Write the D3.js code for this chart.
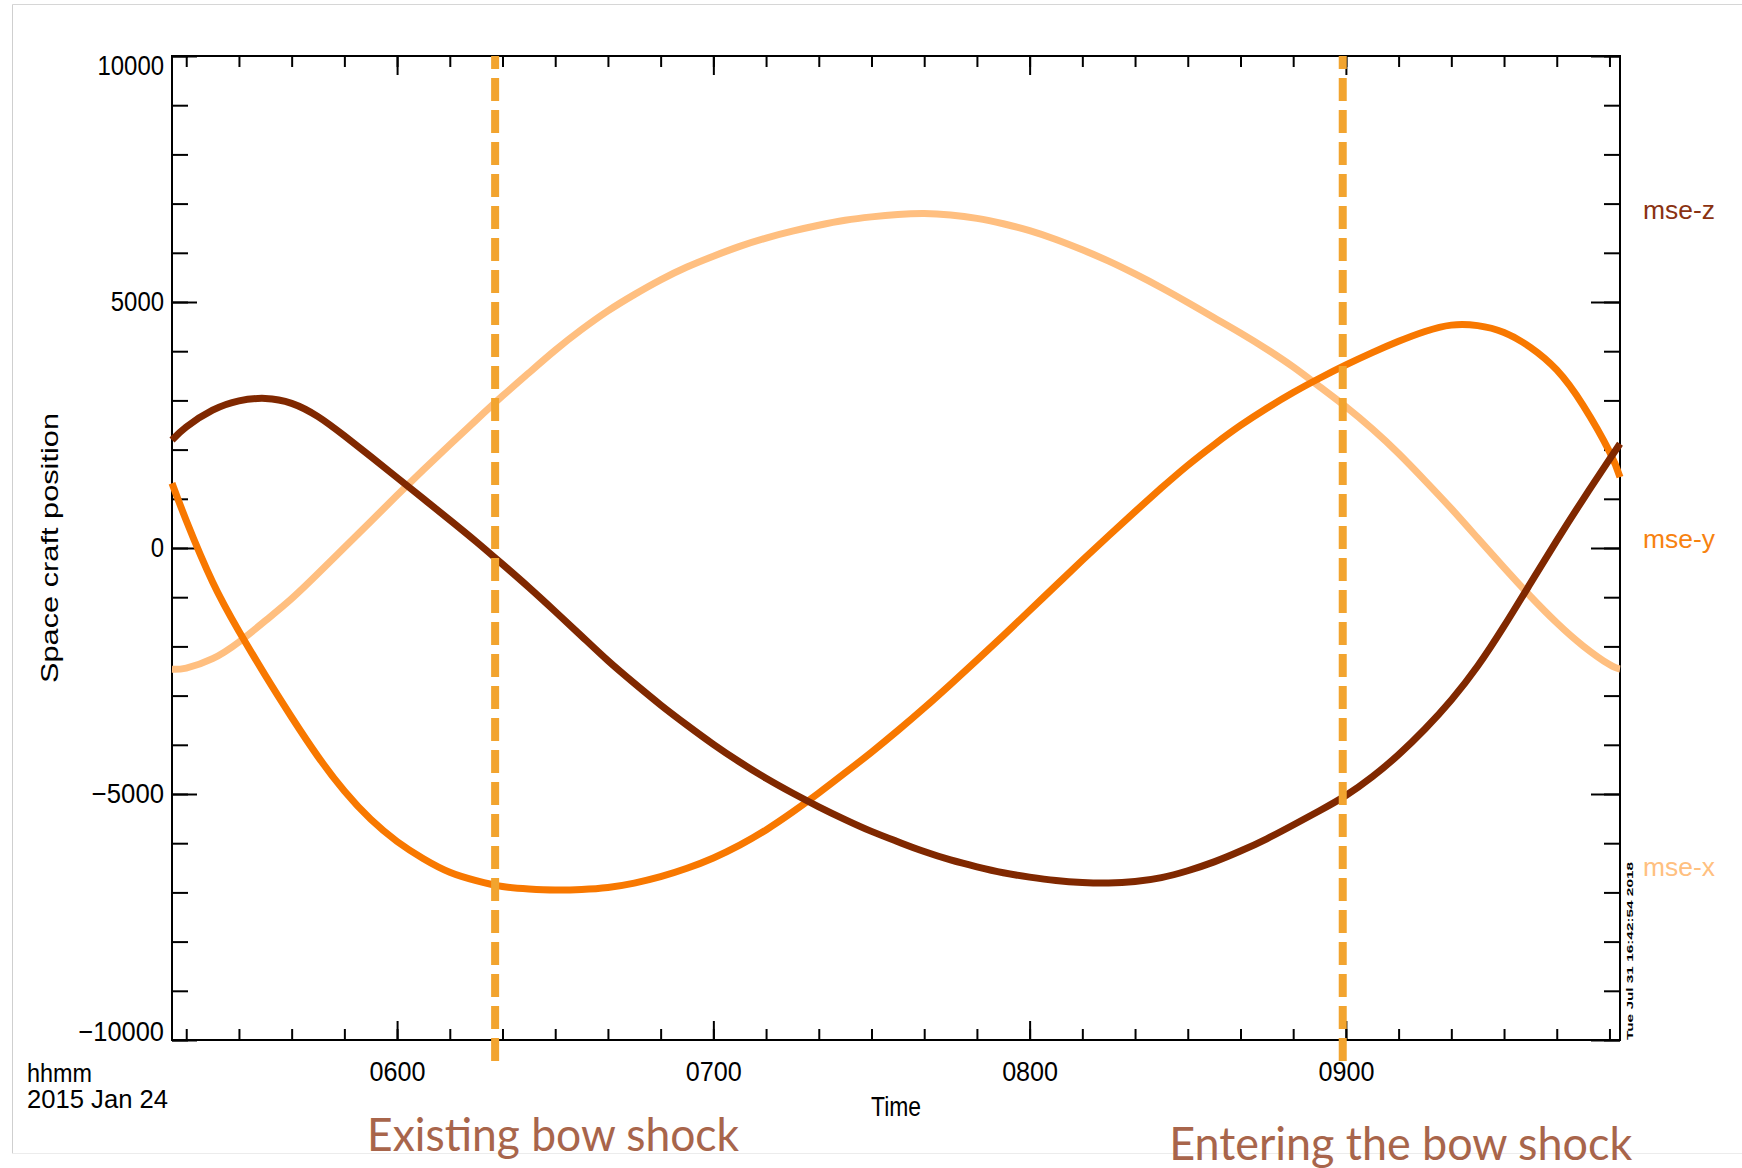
<!DOCTYPE html>
<html>
<head>
<meta charset="utf-8">
<script src="https://cdn.jsdelivr.net/npm/d3@7"></script>
<style>
	body { margin: 0; background: #fff; }
	#chart { width: 1742px; height: 1168px; }
	.idl text { font-family: 'Liberation Sans', Arial, sans-serif; font-size: 27px; fill: #000; }
	.axis line { stroke: #000; stroke-width: 2; }
	.frame { fill: none; stroke: #000; stroke-width: 2; }
	.note { font-family: Lato, 'Open Sans', sans-serif; font-size: 46px; fill: #A8654B; }
</style>
</head>
<body>
<div id="chart"></div>
<script>
// sample times, minutes after 00:00 UT
const times = [317.3, 320, 325, 330, 335, 340, 345, 350, 355, 360,
	365, 370, 375, 380, 385, 390, 395, 400, 405, 410,
	415, 420, 425, 430, 435, 440, 445, 450, 455, 460,
	465, 470, 475, 480, 485, 490, 495, 500, 505, 510,
	515, 520, 525, 530, 535, 540, 545, 550, 555, 560,
	565, 570, 575, 580, 585, 590, 592];

// spacecraft position (km), MSE frame
const mseX = [-2466, -2440, -2250, -1910, -1480, -1030, -520, 10, 540, 1070,
	1590, 2100, 2600, 3090, 3560, 4020, 4440, 4820, 5150, 5450,
	5710, 5930, 6130, 6300, 6440, 6560, 6660, 6730, 6780, 6800,
	6770, 6700, 6590, 6450, 6270, 6060, 5830, 5570, 5290, 4990,
	4680, 4370, 4040, 3680, 3280, 2870, 2420, 1920, 1370, 800,
	200, -400, -980, -1520, -1990, -2370, -2460];
const mseY = [1315, 560, -690, -1690, -2590, -3440, -4240, -4940, -5515, -5965,
	-6315, -6590, -6760, -6880, -6930, -6950, -6940, -6900, -6810, -6680,
	-6510, -6300, -6040, -5730, -5370, -4980, -4570, -4150, -3710, -3250,
	-2770, -2280, -1780, -1270, -760, -250, 250, 740, 1220, 1680,
	2100, 2490, 2840, 3160, 3450, 3720, 3970, 4200, 4400, 4530,
	4520, 4380, 4080, 3620, 2900, 1960, 1440];
const mseZ = [2195, 2460, 2800, 2990, 3040, 2940, 2670, 2280, 1860, 1430,
	1000, 570, 130, -330, -800, -1290, -1790, -2290, -2750, -3190,
	-3600, -3990, -4350, -4680, -4980, -5260, -5520, -5760, -5970, -6170,
	-6340, -6480, -6600, -6690, -6760, -6800, -6810, -6780, -6700, -6560,
	-6380, -6160, -5910, -5630, -5340, -5030, -4650, -4200, -3680, -3090,
	-2400, -1590, -720, 150, 990, 1800, 2120];

const seriesNames = ['mse-x', 'mse-y', 'mse-z'];
const seriesColors = ['#FFBF80', '#F87800', '#802800'];
const labelColors = ['#FFC080', '#F7820F', '#8A3212'];

const bowShockTimes = [378.6, 539.4];
const bowShockLabels = ['Existing bow shock', 'Entering the bow shock'];

const timeDomain = [317.3, 592];
const valueDomain = [-10000, 10000];
const yMajorTicks = [-10000, -5000, 0, 5000, 10000];
const yMinorTicks = d3.range(-10000, 10001, 1000);
const xMajorTicks = [360, 420, 480, 540];
const xTickLabels = ['0600', '0700', '0800', '0900'];
const xMinorTicks = d3.range(320, 591, 10);

class orbitChart {
	constructor(opts) {
		this.element = opts.element;
		this.width = opts.width;
		this.height = opts.height;
		this.margins = opts.margins;
		this.draw();
	}

	draw() {
		const m = this.margins;
		const w = this.width - (m.left + m.right);
		const h = this.height - (m.top + m.bottom);

		this.element.innerHTML = '';
		this.svg = d3.select(this.element).append('svg')
			.attr('width', this.width)
			.attr('height', this.height);

		//slide frame
		const border = this.svg.append('g').attr('class', 'border');
		border.append('line').attr('x1', 12.5).attr('x2', this.width).attr('y1', 4.5).attr('y2', 4.5).style('stroke', '#d6d6d6');
		border.append('line').attr('x1', 12.5).attr('x2', 12.5).attr('y1', 4.5).attr('y2', 1153.5).style('stroke', '#cfcfcf');
		border.append('line').attr('x1', 12.5).attr('x2', this.width).attr('y1', 1153.5).attr('y2', 1153.5).style('stroke', '#ececec');

		this.plot = this.svg.append('g')
			.attr('class', 'idl')
			.attr('transform', 'translate(' + m.left + ',' + m.top + ')');

		this.x = d3.scaleLinear().domain(timeDomain).range([0, w]);
		this.y = d3.scaleLinear().domain(valueDomain).range([h, 0]);

		this.addAxes(w, h);
		this.addLines();
		this.addShocks(h);
		this.addLabels(w, h);
	}

	addAxes(w, h) {
		const x = this.x, y = this.y;
		const tickFmt = d => xTickLabels[xMajorTicks.indexOf(d)];
		const clean = g => g.select('.domain').remove();

		//bottom
		this.plot.append('g').attr('class', 'axis').attr('transform', 'translate(0,' + h + ')')
			.call(d3.axisBottom(x).tickValues(xMinorTicks).tickSize(-11).tickFormat(''))
			.call(clean);
		this.plot.append('g').attr('class', 'axis').attr('transform', 'translate(0,' + h + ')')
			.call(d3.axisBottom(x).tickValues(xMajorTicks).tickSize(-19).tickPadding(22).tickFormat(tickFmt))
			.call(clean)
			.selectAll('text')
				.attr('textLength', 56)
				.attr('lengthAdjust', 'spacingAndGlyphs');
		//top
		this.plot.append('g').attr('class', 'axis')
			.call(d3.axisTop(x).tickValues(xMinorTicks).tickSize(-11).tickFormat(''))
			.call(clean);
		this.plot.append('g').attr('class', 'axis')
			.call(d3.axisTop(x).tickValues(xMajorTicks).tickSize(-19).tickFormat(''))
			.call(clean);

		//left
		this.plot.append('g').attr('class', 'axis')
			.call(d3.axisLeft(y).tickValues(yMinorTicks).tickSize(-16).tickFormat(''))
			.call(clean);
		this.plot.append('g').attr('class', 'axis')
			.call(d3.axisLeft(y).tickValues(yMajorTicks).tickSize(-25).tickPadding(8).tickFormat(d3.format('d')))
			.call(clean)
			.selectAll('text')
				.attr('dy', d => d === valueDomain[1] ? '0.69em' : d === valueDomain[0] ? '0.02em' : '0.32em')
				.attr('textLength', d => String(Math.abs(d)).length * 13.3 + (d < 0 ? 19 : 0))
				.attr('lengthAdjust', 'spacingAndGlyphs');
		//right
		this.plot.append('g').attr('class', 'axis').attr('transform', 'translate(' + w + ',0)')
			.call(d3.axisRight(y).tickValues(yMinorTicks).tickSize(-16).tickFormat(''))
			.call(clean);
		this.plot.append('g').attr('class', 'axis').attr('transform', 'translate(' + w + ',0)')
			.call(d3.axisRight(y).tickValues(yMajorTicks).tickSize(-29).tickFormat(''))
			.call(clean);

		this.plot.append('rect').attr('class', 'frame')
			.attr('width', w).attr('height', h);
	}

	addLines() {
		const that = this;
		const series = [mseX, mseY, mseZ];
		const valueLine = d3.line()
			.curve(d3.curveNatural)
			.x((d, i) => that.x(times[i]))
			.y(d => that.y(d));

		this.plot.selectAll('.orbit-line')
			.data(series)
			.enter().append('path')
			.attr('class', 'orbit-line')
			.attr('fill', 'none')
			.style('stroke', (d, i) => seriesColors[i])
			.style('stroke-width', 7)
			.attr('d', valueLine);
	}

	addShocks(h) {
		const that = this;
		this.plot.selectAll('.shock-line')
			.data(bowShockTimes)
			.enter().append('line')
			.attr('class', 'shock-line')
			.attr('x1', d => that.x(d))
			.attr('x2', d => that.x(d))
			.attr('y1', 0)
			.attr('y2', h + 22)
			.style('stroke', '#F2A42F')
			.style('stroke-width', 8)
			.style('stroke-dasharray', '23,9')
			.style('stroke-dashoffset', 10);

		const baselines = [1151, 1160];
		this.svg.selectAll('.note')
			.data(bowShockLabels)
			.enter().append('text')
			.attr('class', 'note')
			.attr('x', (d, i) => this.margins.left + that.x(bowShockTimes[i]) + 58)
			.attr('y', (d, i) => baselines[i])
			.attr('text-anchor', 'middle')
			.attr('textLength', (d, i) => [372, 463][i])
			.attr('lengthAdjust', 'spacingAndGlyphs')
			.text(d => d);
	}

	addLabels(w, h) {
		const m = this.margins;
		const g = this.svg.append('g').attr('class', 'idl');

		g.append('text').attr('x', 27).attr('y', 1082).style('font-size', '25px')
			.attr('textLength', 65).attr('lengthAdjust', 'spacingAndGlyphs').text('hhmm');
		g.append('text').attr('x', 27).attr('y', 1108).style('font-size', '25px')
			.attr('textLength', 141).attr('lengthAdjust', 'spacingAndGlyphs').text('2015 Jan 24');
		g.append('text').attr('x', m.left + w / 2).attr('y', 1116).attr('text-anchor', 'middle')
			.attr('textLength', 50).attr('lengthAdjust', 'spacingAndGlyphs').text('Time');
		g.append('text')
			.attr('transform', 'translate(58,' + (m.top + h / 2) + ') rotate(-90)')
			.attr('text-anchor', 'middle')
			.style('font-size', '24px')
			.attr('textLength', 270).attr('lengthAdjust', 'spacingAndGlyphs')
			.text('Space craft position');

		//series legend at right
		const legendY = [876, 548, 219];
		g.selectAll('.legend')
			.data(seriesNames)
			.enter().append('text')
			.attr('class', 'legend')
			.attr('x', 1643)
			.attr('y', (d, i) => legendY[i])
			.style('font-size', '25px')
			.style('fill', (d, i) => labelColors[i])
			.attr('textLength', 72).attr('lengthAdjust', 'spacingAndGlyphs')
			.text(d => d);

		//plot stamp
		g.append('text')
			.attr('transform', 'translate(1633,' + (m.top + h) + ') rotate(-90)')
			.style('font-size', '9px')
			.style('font-weight', 'bold')
			.attr('textLength', 178).attr('lengthAdjust', 'spacingAndGlyphs')
			.text('Tue Jul 31 16:42:54 2018');
	}
}

new orbitChart({
	element: document.getElementById('chart'),
	width: 1742,
	height: 1168,
	margins: { top: 56, right: 122, bottom: 128, left: 172 }
});
</script>
</body>
</html>
